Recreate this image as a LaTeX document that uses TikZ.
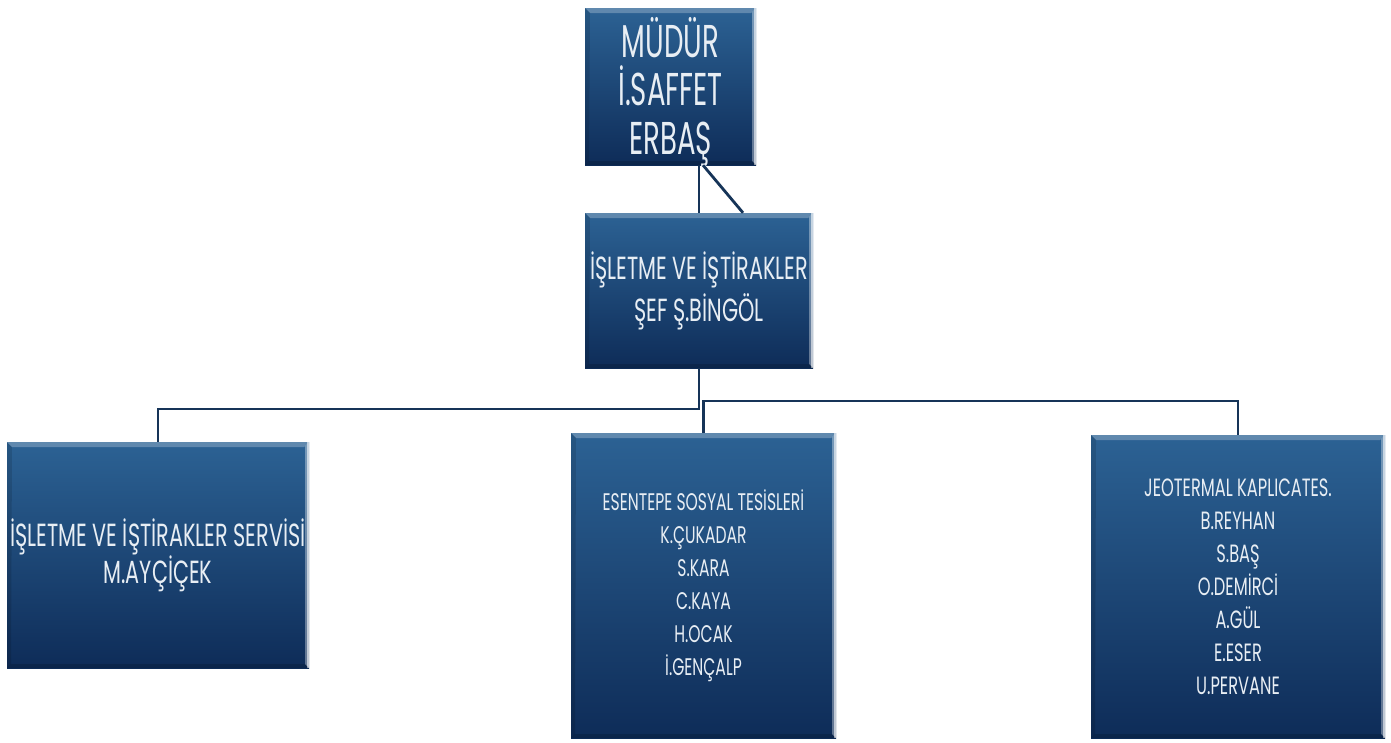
\documentclass[tikz,border=0pt]{standalone}
\usepackage{fontspec}
\usetikzlibrary{calc}
\newfontfamily\cg[FakeStretch=0.65]{Poppins}
\newfontfamily\cgn[FakeStretch=0.6]{Poppins}
\definecolor{boxtop}{RGB}{44,98,148}
\definecolor{boxbot}{RGB}{14,44,88}
\definecolor{txt}{RGB}{232,238,244}
\definecolor{wire}{RGB}{22,52,88}
\tikzset{
  orgbox/.style={rectangle, inner sep=0pt, draw=none, top color=boxtop, bottom color=boxbot,
    text=txt, align=center,
    path picture={
      \coordinate (bnw) at (path picture bounding box.north west);
      \coordinate (bne) at (path picture bounding box.north east);
      \coordinate (bsw) at (path picture bounding box.south west);
      \coordinate (bse) at (path picture bounding box.south east);
      \fill[white,opacity=0.25] (bnw) -- (bne) -- ($(bne)+(-5pt,-5pt)$) -- ($(bnw)+(5pt,-5pt)$) -- cycle;
      \fill[white,opacity=0.35] (bne) -- (bse) -- ($(bse)+(-4pt,4pt)$) -- ($(bne)+(-4pt,-4pt)$) -- cycle;
      \fill[white,opacity=0.6] ($(bne)+(-2pt,0)$) rectangle ($(bse)+(-0.5pt,0)$);
      \fill[black,opacity=0.15] (bsw) -- (bse) -- ($(bse)+(-4pt,4pt)$) -- ($(bsw)+(4pt,4pt)$) -- cycle;
      \fill[black,opacity=0.12] (bnw) -- (bsw) -- ($(bsw)+(4pt,4pt)$) -- ($(bnw)+(5pt,-5pt)$) -- cycle;
    }},
  wireline/.style={draw=wire, line width=2.8pt}
}
\begin{document}
\begin{tikzpicture}[x=1pt,y=-1pt]
\useasboundingbox[fill=white] (0,0) rectangle (1391,742);

\node[orgbox, minimum width=171pt, minimum height=157pt] (top) at (670.5,86.5) {};
\node[text=txt, align=center, font={\cgn\fontsize{46}{48.5}\selectfont}] (toptxt) at (670.5,92) {MÜDÜR\\İ.SAFFET\\ERBAŞ};

\node[orgbox, minimum width=228pt, minimum height=155pt, font={\cg\fontsize{32}{42}\selectfont}] (mid) at (699,290.5)
  {İŞLETME VE İŞTİRAKLER\\ŞEF Ş.BİNGÖL};

\node[orgbox, minimum width=302pt, minimum height=226pt, font={\cg\fontsize{32}{32}\selectfont}] (left) at (158,555)
  {İŞLETME VE İŞTİRAKLER SERVİSİ\\M.AYÇİÇEK};

\node[orgbox, minimum width=265pt, minimum height=305pt, font={\cg\fontsize{24}{33}\selectfont}] (cen) at (703.5,585.5)
  {ESENTEPE SOSYAL TESİSLERİ\\K.ÇUKADAR\\S.KARA\\C.KAYA\\H.OCAK\\İ.GENÇALP};

\node[orgbox, minimum width=294pt, minimum height=303pt, font={\cg\fontsize{25}{33}\selectfont}] (rgt) at (1238,586.5)
  {JEOTERMAL KAPLICATES.\\B.REYHAN\\S.BAŞ\\O.DEMİRCİ\\A.GÜL\\E.ESER\\U.PERVANE};

\coordinate (j1) at (699,409);
\coordinate (j2) at (703.5,401);
\draw[wireline] (top.south -| mid.north) -- (mid.north);
\draw[wireline] ([xshift=4pt]top.south -| mid.north) -- ([xshift=44pt]mid.north);
\draw[wireline] (mid.south) -- (j1) -| (left.north);
\draw[wireline] (cen.north) -- (j2) -| (rgt.north);
\end{tikzpicture}
\end{document}
